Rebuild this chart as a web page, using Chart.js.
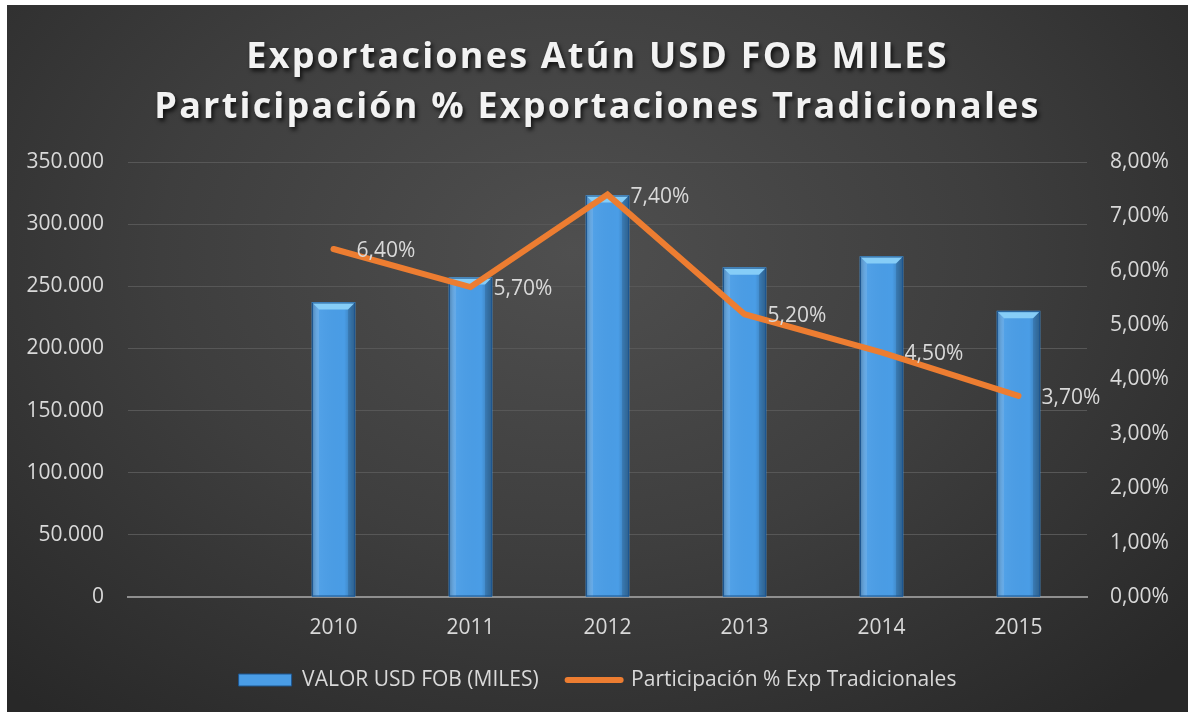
<!DOCTYPE html>
<html>
<head>
<meta charset="utf-8">
<script src="https://cdn.jsdelivr.net/npm/chart.js@4.4.1/dist/chart.umd.min.js"></script>
<style>
  html, body { margin:0; padding:0; background:#fff; }
  #wrap {
    position:absolute; left:7px; top:5px; width:1181px; height:707px;
    background: radial-gradient(ellipse 70% 85% at 48% 35%, #4f4f4f 0%, #3e3e3e 50%, #282828 100%);
  }
  #title {
    position:absolute; left:0; right:0; top:25px; text-align:center;
    font-family:'Open Sans', sans-serif; font-weight:700; font-size:36px; line-height:50px;
    letter-spacing:2.2px; color:#f2f2f2; text-shadow:2px 3px 4px rgba(0,0,0,0.75);
  }
  #wrap canvas { position:absolute; left:0; top:0; }
</style>
</head>
<body>
<div id="wrap">
  <canvas id="chart" width="1181" height="707"></canvas>
  <div id="title">Exportaciones Atún USD FOB MILES<br>Participación % Exportaciones Tradicionales</div>
</div>
<script>
// ── Data ──────────────────────────────────────────────────────
const years      = ['', '2010', '2011', '2012', '2013', '2014', '2015'];
const valorFob   = [null, 237000, 257000, 323000, 265000, 274000, 230000];
const partPct    = [null, 6.4, 5.7, 7.4, 5.2, 4.5, 3.7];
const seriesName = ['VALOR USD FOB (MILES)', 'Participación % Exp Tradicionales'];

const C = {
  bar:'#4a9de6', barEdge:'#1d5690', barTop:'#86cdf7',
  line:'#ed7d31', text:'#d9d9d9', grid:'#575757', axis:'#8f8f8f',
};

Chart.defaults.font.family = "'Open Sans', sans-serif";
Chart.defaults.font.size = 21;
Chart.defaults.color = C.text;

const fmtMiles = v => String(v).replace(/\B(?=(\d{3})+(?!\d))/g, '.');
const fmtPct   = v => v.toFixed(2).replace('.', ',') + '%';

// bevel look of the Excel bars
const bevel = {
  id:'bevel',
  afterDatasetDraw(chart, args) {
    if (args.index !== 0) return;
    const ctx = chart.ctx;
    args.meta.data.forEach((bar, i) => {
      if (valorFob[i] == null) return;
      const { x, y, width, base } = bar.getProps(['x','y','width','base'], true);
      const l = x - width/2, r = x + width/2, b = 7, h = base - y;
      ctx.save();
      const g = ctx.createLinearGradient(l, 0, r, 0);
      g.addColorStop(0,   'rgba(0,0,0,0.28)');
      g.addColorStop(0.18,'rgba(255,255,255,0.04)');
      g.addColorStop(0.75,'rgba(0,0,0,0)');
      g.addColorStop(1,   'rgba(0,0,0,0.3)');
      ctx.fillStyle = g; ctx.fillRect(l, y, width, h);
      ctx.fillStyle = 'rgba(255,255,255,0.10)';
      ctx.beginPath(); ctx.moveTo(l, y); ctx.lineTo(l+b, y+b); ctx.lineTo(l+b, base); ctx.lineTo(l, base); ctx.fill();
      ctx.fillStyle = 'rgba(0,0,0,0.12)';
      ctx.beginPath(); ctx.moveTo(r, y); ctx.lineTo(r-b, y+b); ctx.lineTo(r-b, base); ctx.lineTo(r, base); ctx.fill();
      ctx.fillStyle = C.barTop;
      ctx.beginPath(); ctx.moveTo(l, y); ctx.lineTo(r, y); ctx.lineTo(r-b, y+b); ctx.lineTo(l+b, y+b); ctx.fill();
      ctx.strokeStyle = C.barEdge; ctx.lineWidth = 1;
      ctx.strokeRect(l+0.5, y+0.5, width-1, h-1);
      ctx.restore();
    });
  }
};

// value labels right of the line points
const pctLabels = {
  id:'pctLabels',
  afterDatasetsDraw(chart) {
    const ctx = chart.ctx;
    const meta = chart.getDatasetMeta(1);
    ctx.save();
    ctx.font = "21px 'Open Sans', sans-serif";
    ctx.fillStyle = C.text;
    ctx.textAlign = 'left'; ctx.textBaseline = 'middle';
    meta.data.forEach((pt, i) => {
      if (partPct[i] == null) return;
      ctx.fillText(fmtPct(partPct[i]), pt.x + 23, pt.y + 2);
    });
    ctx.restore();
  }
};

new Chart(document.getElementById('chart'), {
  data:{
    labels: years,
    datasets:[
      { type:'bar', label:seriesName[0], data:valorFob, yAxisID:'y', order:2,
        backgroundColor:C.bar, borderColor:C.barEdge, borderWidth:0, barThickness:43 },
      { type:'line', label:seriesName[1], data:partPct, yAxisID:'y1', order:1,
        borderColor:C.line, backgroundColor:C.line, borderWidth:6, pointRadius:0,
        borderCapStyle:'round', borderJoinStyle:'miter', tension:0 },
    ]
  },
  options:{
    responsive:false, animation:false,
    layout:{ padding:{ top:157, bottom:11.5, left:0, right:0 } },
    plugins:{
      tooltip:{ enabled:false },
      legend:{
        position:'bottom',
        labels:{
          color:C.text, usePointStyle:true, pointStyleWidth:53, boxHeight:12, padding:29,
          font:{ size:21 },
          sort:(a, b) => a.datasetIndex - b.datasetIndex,
          generateLabels: chart => Chart.defaults.plugins.legend.labels.generateLabels(chart).map(it => (
            it.datasetIndex === 0
              ? { ...it, pointStyle:'rect', fillStyle:C.bar, strokeStyle:C.barEdge, lineWidth:1 }
              : { ...it, pointStyle:'line', strokeStyle:C.line, lineWidth:6, lineCap:'round' }
          )),
        }
      }
    },
    scales:{
      x:{
        grid:{ display:false, drawTicks:false },
        border:{ color:C.axis, width:2 },
        ticks:{ color:C.text, padding:18, font:{ size:21 }, autoSkip:false, maxRotation:0 },
        afterFit: s => { s.height = 43.5; },
      },
      y:{
        position:'left', min:0, max:350000,
        ticks:{ stepSize:50000, color:C.text, padding:24, font:{ size:21 }, callback:v => fmtMiles(v) },
        grid:{ color:C.grid, lineWidth:1, drawTicks:false },
        border:{ display:false },
        afterFit: s => { s.width = 121; },
      },
      y1:{
        position:'right', min:0, max:8,
        ticks:{ stepSize:1, color:C.text, padding:23, font:{ size:21 }, callback:v => fmtPct(v) },
        grid:{ display:false, drawTicks:false },
        border:{ display:false },
        afterFit: s => { s.width = 101; },
      },
    }
  },
  plugins:[bevel, pctLabels],
});
</script>
</body>
</html>
